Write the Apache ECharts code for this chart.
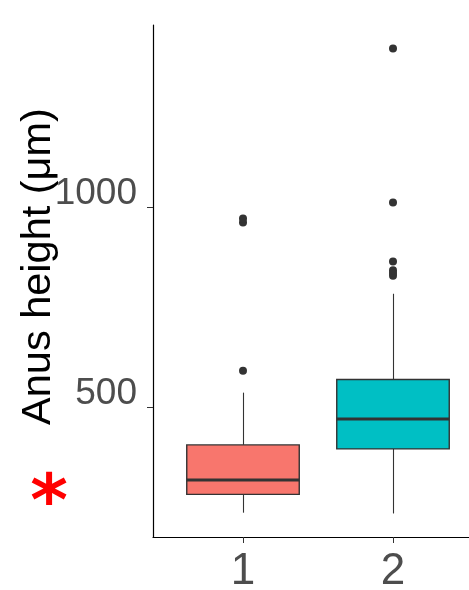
<!DOCTYPE html>
<html>
<head>
<meta charset="utf-8">
<script src="https://cdn.jsdelivr.net/npm/echarts@6/dist/echarts.min.js"></script>
<style>
  html, body { margin: 0; padding: 0; background: #ffffff; }
  #chart { width: 469px; height: 590px; }
</style>
</head>
<body>
<div id="chart"></div>
<script>
// Group labels and their positions on the x scale
const groups = ['1', '2'];
const groupPos = [1, 2];

// Five-number summaries per group (µm)
const whiskerLow = [235, 233];
const lowerQuartile = [281, 395];
const median = [317, 470];
const upperQuartile = [405, 569];
const whiskerHigh = [536, 784];

// Points beyond the whiskers, per group
const outliers = [
  [591, 963, 973],
  [829, 836, 843, 865, 1013, 1399]
];

const yTicks = [500, 1000];
const boxColors = ['#F8766D', '#00BFC4'];
const yTitle = 'Anus height (μm)';

const BOX_WIDTH = 0.75;
const INK = '#333333';
const TICK_FONT = '"Liberation Sans", Arial, sans-serif';

const chart = echarts.init(document.getElementById('chart'), null, { renderer: 'canvas' });

const boxData = groupPos.map((x, i) => [
  x, whiskerLow[i], lowerQuartile[i], median[i], upperQuartile[i], whiskerHigh[i]
]);

const outlierData = [];
outliers.forEach((vals, i) => {
  vals.forEach(v => outlierData.push([groupPos[i], v]));
});

// Box, whiskers (no caps) and a heavier median bar, all placed through the axes
function renderBox(params, api) {
  const x = api.value(0);
  const lo = api.coord([x, api.value(1)]);
  const q1 = api.coord([x, api.value(2)]);
  const med = api.coord([x, api.value(3)]);
  const q3 = api.coord([x, api.value(4)]);
  const hi = api.coord([x, api.value(5)]);
  const half = api.size([BOX_WIDTH, 0])[0] / 2;
  const cx = lo[0];
  const wx = Math.round(cx) + 0.5; // crisp 1px whisker
  return {
    type: 'group',
    children: [
      { type: 'line', shape: { x1: wx, y1: lo[1], x2: wx, y2: q1[1] },
        style: { stroke: INK, lineWidth: 1.1 } },
      { type: 'line', shape: { x1: wx, y1: q3[1], x2: wx, y2: hi[1] },
        style: { stroke: INK, lineWidth: 1.1 } },
      { type: 'rect', shape: { x: cx - half, y: q3[1], width: half * 2, height: q1[1] - q3[1] },
        style: { fill: boxColors[params.dataIndex], stroke: INK, lineWidth: 1.4 } },
      { type: 'line', shape: { x1: cx - half, y1: med[1], x2: cx + half, y2: med[1] },
        style: { stroke: INK, lineWidth: 3 } }
    ]
  };
}

chart.setOption({
  animation: false,
  backgroundColor: '#ffffff',
  grid: { left: 153, right: -14, top: 25, bottom: 53, containLabel: false, outerBoundsMode: 'none' },
  xAxis: {
    type: 'value',
    min: 0.4,
    max: 2.6,
    splitLine: { show: false },
    axisLine: { show: true, onZero: false, lineStyle: { color: '#000000', width: 1.2 } },
    axisTick: { show: true, customValues: groupPos, length: 6, lineStyle: { color: INK, width: 1 } },
    axisLabel: {
      customValues: groupPos,
      formatter: v => groups[groupPos.indexOf(v)],
      fontFamily: TICK_FONT,
      fontSize: 44,
      lineHeight: 32,
      color: '#4D4D4D',
      margin: 19
    }
  },
  yAxis: {
    type: 'value',
    min: 174,
    max: 1458,
    splitLine: { show: false },
    axisLine: { show: true, onZero: false, lineStyle: { color: '#000000', width: 1.2 } },
    axisTick: { show: true, customValues: yTicks, length: 6, lineStyle: { color: INK, width: 1 } },
    axisLabel: {
      customValues: yTicks,
      formatter: v => String(v),
      fontFamily: TICK_FONT,
      fontSize: 37,
      lineHeight: 27,
      verticalAlign: 'bottom',
      color: '#4D4D4D',
      margin: 16
    }
  },
  graphic: [
    {
      type: 'text',
      x: 38.6,
      y: 266.5,
      rotation: Math.PI / 2,
      style: {
        text: yTitle,
        fontFamily: '"Liberation Sans", Arial, sans-serif',
        fontSize: 41.5,
        fill: '#000000',
        align: 'center',
        verticalAlign: 'middle'
      }
    },
    {
      type: 'text',
      x: 49,
      y: 506,
      style: {
        text: '*',
        fontFamily: '"DejaVu Sans", sans-serif',
        fontWeight: 'bold',
        fontSize: 72,
        fill: '#FF0000',
        align: 'center',
        verticalAlign: 'middle'
      }
    }
  ],
  series: [
    {
      type: 'custom',
      data: boxData,
      encode: { x: 0, y: [1, 2, 3, 4, 5] },
      renderItem: renderBox,
      z: 2
    },
    {
      type: 'scatter',
      data: outlierData,
      symbol: 'circle',
      symbolSize: 8,
      itemStyle: { color: INK, opacity: 1 },
      z: 3
    }
  ]
});
</script>
</body>
</html>
